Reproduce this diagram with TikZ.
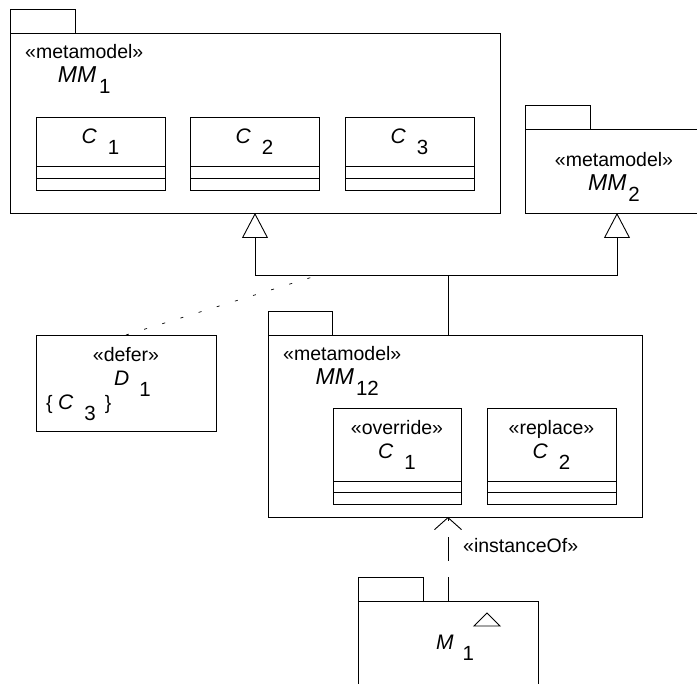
\documentclass[tikz,border=0pt]{standalone}
\usepackage{fontspec}
\setmainfont{Liberation Sans}
\usetikzlibrary{positioning,arrows.meta}
\newcommand{\nm}[1]{{\fontsize{21}{24}\selectfont\textit{#1}}}
\newcommand{\bignm}[1]{{\fontsize{23}{24}\selectfont\textit{#1}}}
\newcommand{\lowsub}[1]{\raisebox{-11pt}{\fontsize{20.5}{24}\selectfont #1}}
\begin{document}
\begin{tikzpicture}[x=1pt,y=-1pt,font=\fontsize{19.5}{24}\selectfont]
        \tikzstyle{pkg}=[draw,line width=0.9pt,inner sep=0pt,outer sep=0pt,anchor=north west]
        \tikzstyle{pkgtab}=[draw,line width=0.9pt,inner sep=0pt,outer sep=0pt,minimum width=65pt,minimum height=24pt,anchor=south west]
        \tikzstyle{cls}=[draw,line width=0.9pt,inner sep=0pt,outer sep=0pt,minimum width=129pt,anchor=north west,align=center]
        \tikzstyle{compart}=[draw,line width=0.9pt,inner sep=0pt,outer sep=0pt,minimum width=129pt,minimum height=12pt,anchor=north]
        \tikzstyle{lbl}=[inner sep=0pt,align=center]
        \tikzstyle{gen}=[draw,line width=0.9pt,-{Triangle[open,width=26pt,length=25pt]}]
        \tikzstyle{inst}=[draw,line width=0.9pt,dash pattern=on 24pt off 16pt,-{Straight Barb[length=12pt,width=27pt]}]
        \tikzstyle{deferline}=[draw,line width=0.7pt,dash pattern=on 3pt off 16pt]
        \useasboundingbox (0,0) rectangle (697,684);
        \clip (0,0) rectangle (697,684);
       \begin{scope}
         \node [pkg,minimum width=490pt,minimum height=180pt] (mm1) at (10,33) {};
         \node [pkgtab] (mm1tab) at (mm1.north west) {};
         \node [lbl,anchor=north west] (mm1lab) at (25,44) {«metamodel»\\\bignm{MM}\hspace{3pt}\lowsub{1}};
         \node [cls,minimum height=49pt] (c1) at (36,117) {\nm{C}\hspace{11pt}\lowsub{1}};
         \node [compart] (c1a) at (c1.south) {};
         \node [compart] (c1b) at (c1a.south) {};
         \node [cls,minimum height=49pt] (c2) at (190,117) {\nm{C}\hspace{11pt}\lowsub{2}};
         \node [compart] (c2a) at (c2.south) {};
         \node [compart] (c2b) at (c2a.south) {};
         \node [cls,minimum height=49pt] (c3) at (345,117) {\nm{C}\hspace{11pt}\lowsub{3}};
         \node [compart] (c3a) at (c3.south) {};
         \node [compart] (c3b) at (c3a.south) {};
        \end{scope}
       \begin{scope}
         \node [pkg,minimum width=184pt,minimum height=84pt] (mm2) at (525,129) {};
         \node [pkgtab] (mm2tab) at (mm2.north west) {};
         \node [lbl,anchor=north] (mm2lab) at (614,152) {«metamodel»\\\bignm{MM}\hspace{2pt}\lowsub{2}};
        \end{scope}
       \begin{scope}
         \node [pkg,minimum width=180pt,minimum height=96pt] (d1) at (36,335) {};
         \node [lbl,below=12pt of d1.north] (d1lab) {«defer»\\\hspace{13pt}\nm{D}\hspace{10pt}\lowsub{1}};
         \node [lbl,anchor=base west] (d1set) at (46,410) {\{ \nm{C}\hspace{11pt}\lowsub{3}\hspace{9pt}\}};
        \end{scope}
       \begin{scope}
         \node [pkg,minimum width=374pt,minimum height=182pt] (mm12) at (268,335) {};
         \node [pkgtab,minimum width=64pt] (mm12tab) at (mm12.north west) {};
         \node [lbl,anchor=north west] (mm12lab) at (283,346) {«metamodel»\\\hspace{10pt}\bignm{MM}\hspace{2pt}\lowsub{12}};
         \node [cls,minimum width=128pt,minimum height=73pt] (ovr) at (333,408) {«override»\\\nm{C}\hspace{11pt}\lowsub{1}};
         \node [compart,minimum width=128pt,minimum height=11.5pt] (ovra) at (ovr.south) {};
         \node [compart,minimum width=128pt,minimum height=11.5pt] (ovrb) at (ovra.south) {};
         \node [cls,minimum height=73pt] (rpl) at (487,408) {«replace»\\\nm{C}\hspace{11pt}\lowsub{2}};
         \node [compart,minimum height=11.5pt] (rpla) at (rpl.south) {};
         \node [compart,minimum height=11.5pt] (rplb) at (rpla.south) {};
        \end{scope}
       \begin{scope}
         \node [pkg,minimum width=180pt,minimum height=100pt] (m1) at (358,601) {};
         \node [pkgtab] (m1tab) at (m1.north west) {};
         \node [lbl,anchor=base west] (m1lab) at (436,650) {\nm{M}\hspace{9pt}\lowsub{1}};
         \draw [line width=0.9pt] (474,626) -- (487,613) -- (500,626) -- cycle;
        \end{scope}
         \coordinate (jn) at (448,275);
         \coordinate (dd) at (319,275);
         \draw [line width=0.9pt] (mm12.north -| jn) -- (jn);
         \path [gen] (jn) -| (mm1.south);
         \path [gen] (jn) -| (mm2.south);
         \path [deferline] (d1.north) -- (dd);
         \path [inst] (m1.north) -- (m1.north |- mm12.south);
         \node [lbl,anchor=base west] (instlab) at (463,553) {«instanceOf»};
      \end{tikzpicture}
\end{document}
